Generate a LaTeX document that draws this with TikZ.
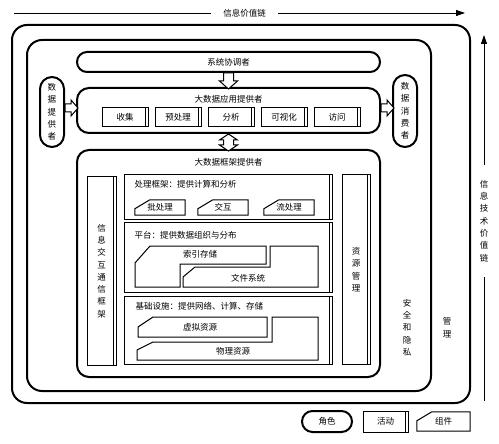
\documentclass[tikz,border=0pt]{standalone}
\usepackage{fontspec}
\newfontfamily\cjk{Noto Sans CJK SC}
\usetikzlibrary{calc,positioning,arrows.meta}

\tikzset{
  ring/.style={draw, line width=2pt, rounded corners=15pt, inner sep=0pt},
  role/.style={draw, line width=2pt, rounded corners=#1, inner sep=0pt},
  role/.default=12pt,
  fwbox/.style={draw, line width=1pt, inner sep=0pt,
    path picture={\draw[line width=1pt]
      ([xshift=-2.5pt]path picture bounding box.north east) --
      ([xshift=-2.5pt]path picture bounding box.south east);}},
  act/.style={fwbox, minimum width=46pt, minimum height=19pt},
  cbox/.style={inner sep=0pt, minimum width=50pt, minimum height=15pt},
  comp/.style={line width=1pt},
  blkline/.style={line width=1pt, fill=white, line join=miter},
  chainarrow/.style={line width=0.8pt, -{Triangle[length=9pt,width=6pt]}}
}

\begin{document}
\begin{tikzpicture}[x=1pt, y=-1pt, font=\cjk\fontsize{8.5}{12.3}\selectfont,
    every node/.style={align=center}]
  \useasboundingbox (0,0) rectangle (499,444);

  % 外框: 管理 / 安全和隐私
  \node[ring, minimum width=458pt, minimum height=378pt] (mgmt) at (241,214) {};
  \node[ring, minimum width=404pt, minimum height=351pt] (secpriv) at (229,215.5) {};
  \node (mgmtlbl) at (447,327.5) {管\\理};
  \node (secprivlbl) at (407,327.5) {安\\全\\和\\隐\\私};

  % 信息价值链
  \coordinate (ivcs) at (14,13);
  \coordinate (ivce) at (465,13);
  \node[inner xsep=12pt] (ivc) at (244.5,13) {信息价值链};
  \draw[line width=0.8pt] (ivcs) -- (ivc.west);
  \draw[chainarrow] (ivc.east) -- (ivce);

  % 信息技术价值链
  \coordinate (itvs) at (484,401);
  \coordinate (itve) at (484,35);
  \node[inner ysep=15pt] (itvc) at (484,221) {信\\息\\技\\术\\价\\值\\链};
  \draw[line width=0.8pt] (itvs) -- (itvc.south);
  \draw[chainarrow] (itvc.north) -- (itve);

  % 角色
  \node[role=10pt, minimum width=303pt, minimum height=20pt] (orch) at (228.5,62) {系统协调者};
  \node[role, minimum width=303pt, minimum height=45pt] (app) at (228.5,110.5) {};
  \node[below=5pt of app.north] (apptitle) {大数据应用提供者};
  \node[role, minimum width=24pt, minimum height=70pt] (dp) at (52,112) {数\\据\\提\\供\\者};
  \node[role, minimum width=24pt, minimum height=72pt] (dc) at (405,111) {数\\据\\消\\费\\者};
  \node[role, minimum width=303pt, minimum height=227pt] (bdfp) at (228.5,263.5) {};
  \node[below=6pt of bdfp.north] (bdfptitle) {大数据框架提供者};

  % 活动
  \node[act] (coll) at (125,117.5) {收集};
  \node[act, right=6pt of coll] (prep) {预处理};
  \node[act, right=6pt of prep] (anal) {分析};
  \node[act, right=6pt of anal] (visu) {可视化};
  \node[act, right=6pt of visu] (acc) {访问};

  % 块箭头
  \draw[blkline] (orch.south) ++(-5,0) -- ++(0,8) -- ++(-4,0) -- ++(9,8)
    -- ++(9,-8) -- ++(-4,0) -- ++(0,-8) -- cycle;
  \draw[blkline] ($(dp.east)+(0,-4)$) ++(0,-4) -- ++(6,0) -- ++(0,-4) -- ++(7,8)
    -- ++(-7,8) -- ++(0,-4) -- ++(-6,0) -- cycle;
  \draw[blkline] ($(app.east)+(0,-2.5)$) ++(0,-4) -- ++(6,0) -- ++(0,-4) -- ++(7,8)
    -- ++(-7,8) -- ++(0,-4) -- ++(-6,0) -- cycle;
  \draw[blkline] (app.south) -- ++(9,6) -- ++(-4,0) -- ++(0,5) -- ++(4,0)
    -- ++(-9,6) -- ++(-9,-6) -- ++(4,0) -- ++(0,-5) -- ++(-4,0) -- cycle;

  % 框架提供者内部
  \node[fwbox, minimum width=29pt, minimum height=189pt] (msg) at (101.5,271) {信\\息\\交\\互\\通\\信\\框\\架};
  \node[fwbox, minimum width=28pt, minimum height=189pt] (rm) at (356,269.5) {资\\源\\管\\理};
  \node[fwbox, minimum width=208pt, minimum height=45pt] (proc) at (228,197.5) {};
  \node[fwbox, minimum width=208pt, minimum height=69pt] (plat) at (228,257.5) {};
  \node[fwbox, minimum width=208pt, minimum height=68pt] (infra) at (228,330) {};
  \node[anchor=north west, inner sep=0pt] (proctitle) at ([shift={(11pt,-5.5pt)}]proc.north west) {处理框架：提供计算和分析};
  \node[anchor=north west, inner sep=0pt] (plattitle) at ([shift={(11pt,-8.5pt)}]plat.north west) {平台：提供数据组织与分布};
  \node[anchor=north west, inner sep=0pt] (infratitle) at ([shift={(12pt,-6.5pt)}]infra.north west) {基础设施：提供网络、计算、存储};

  % 组件
  \node[cbox] (batch) at (160,207.5) {批处理};
  \node[cbox] (inter) at (223,207.5) {交互};
  \node[cbox] (stream) at (289,207.5) {流处理};
  \draw[comp] (135,287) -- (135,263) -- (150,246) -- (266,246) -- (266,264) -- (180,264) -- (180,287) -- cycle;
  \draw[comp] (183,287) -- (183,277) -- (195,267) -- (270,267) -- (270,246) -- (318,246) -- (318,287) -- cycle;
  \node (idx) at (200,254) {索引存储};
  \node (fs) at (248,278) {文件系统};
  \draw[comp] (138,337) -- (138,327) -- (153,317) -- (267,317) -- (267,337) -- cycle;
  \draw[comp] (137,360) -- (137,350) -- (153,342) -- (272,342) -- (272,317) -- (318,317) -- (318,360) -- cycle;
  \node (virt) at (200,327) {虚拟资源};
  \node (phys) at (233,351) {物理资源};

  % 图例
  \node[role=10.5pt, minimum width=50pt, minimum height=21pt] (legrole) at (327,421.5) {角色};
  \node[act, minimum width=45pt, minimum height=21pt] (legact) at (385.5,421.5) {活动};
  \node[cbox, minimum width=53pt, minimum height=19pt] (legcomp) at (443.5,421.5) {组件};

  \foreach \c in {batch,inter,stream,legcomp}
    \draw[comp] (\c.south west) -- ([yshift=-9pt]\c.north west) -- ([xshift=15pt]\c.north west)
      -- (\c.north east) -- (\c.south east) -- cycle;
\end{tikzpicture}
\end{document}
